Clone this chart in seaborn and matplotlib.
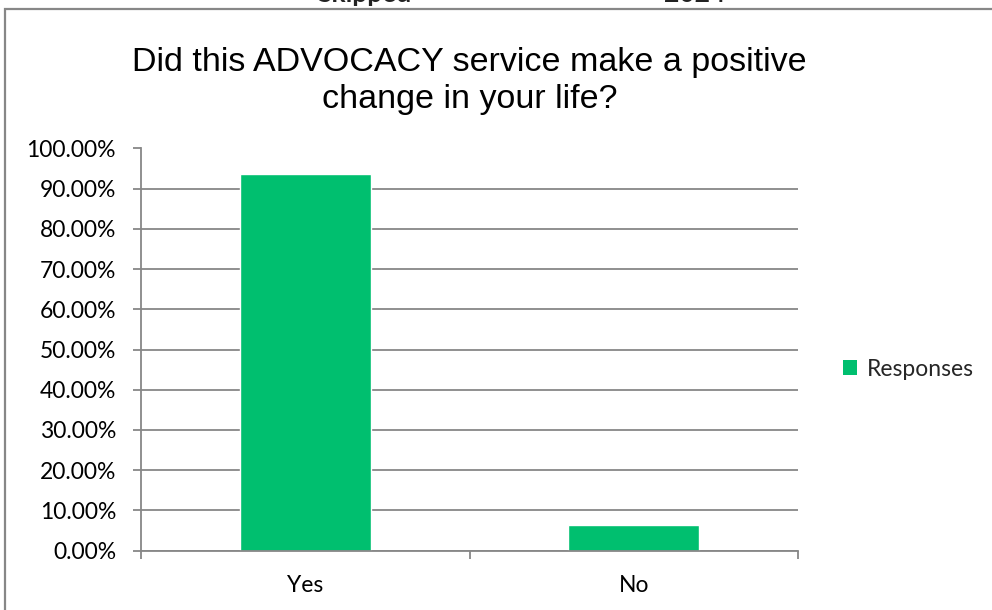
import matplotlib
matplotlib.use("Agg")
import matplotlib.pyplot as plt
import matplotlib.patches as mpatches
import seaborn as sns
import pandas as pd

# Survey answers and share of responses (%)
answers = ["Yes", "No"]
responses = [93.75, 6.25]
y_ticks = [0, 10, 20, 30, 40, 50, 60, 70, 80, 90, 100]
title_text = "Did this ADVOCACY service make a positive\nchange in your life?"
series_name = "Responses"
header_left = "Skipped"
header_right = "2024"

df = pd.DataFrame({"Answer": answers, series_name: responses})

sns.set_theme(style="white")
plt.rcParams["font.family"] = ["Lato", "DejaVu Sans"]

GREEN = "#00BF6F"
GRAY = "#878787"
LABEL_SIZE = 16.5

fig = plt.figure(figsize=(9.92, 6.10), dpi=100)
W, H = 992, 610
ax = fig.add_axes([141 / W, (H - 550.5) / H, (798 - 141) / W, (550.5 - 148.5) / H])

sns.barplot(data=df, x="Answer", y=series_name, color=GREEN, width=0.4,
            saturation=1, ax=ax, zorder=3)

ax.set_ylim(0, 100)
ax.set_xlim(-0.5, 1.5)
ax.set_yticks(y_ticks)
ax.set_yticklabels([f"{v:.2f}%" for v in y_ticks])
ax.set_xticks([0, 1])
ax.set_xticklabels(answers)
ax.set_xlabel("")
ax.set_ylabel("")

# Category boundary ticks on the x axis
ax.set_xticks([-0.5, 0.5, 1.5], minor=True)
ax.tick_params(axis="x", which="major", length=0, pad=18, labelsize=LABEL_SIZE, labelcolor="#000000")
ax.tick_params(axis="x", which="minor", length=6, width=1.3, color=GRAY, direction="out", bottom=True)
ax.tick_params(axis="y", which="major", length=6, width=1.3, color=GRAY, direction="out",
               left=True, pad=12, labelsize=LABEL_SIZE, labelcolor="#000000")

ax.yaxis.grid(True, color=GRAY, linewidth=1.3, zorder=0)
ax.xaxis.grid(False)
for side in ["top", "right"]:
    ax.spines[side].set_visible(False)
for side in ["left", "bottom"]:
    ax.spines[side].set_color(GRAY)
    ax.spines[side].set_linewidth(1.3)
    ax.spines[side].set_zorder(4)

fig.text(469.5 / W, 1 - 81 / H, title_text, ha="center", va="center",
         fontsize=24.5, family=["Liberation Sans", "DejaVu Sans"], color="#000000",
         linespacing=1.27)

handle = mpatches.Patch(facecolor=GREEN, edgecolor="none", label=series_name)
fig.legend(handles=[handle], loc="center left", bbox_to_anchor=(834 / W, 1 - 369 / H),
           frameon=False, fontsize=LABEL_SIZE, handlelength=0.62, handleheight=0.62,
           handletextpad=0.4, borderaxespad=0)

# Outer chart frame
frame = mpatches.Rectangle((4.5 / W, -0.1), 1.2, 1.1 - 8.5 / H, transform=fig.transFigure,
                           fill=False, edgecolor=GRAY, linewidth=1.6, clip_on=False)
fig.patches.append(frame)

# Header row above the chart frame, partly cut off by the page edge
fig.text(365 / W, 1 - 1.5 / H, header_left, ha="center", va="baseline",
         fontsize=19, fontweight="bold", color="#222222")
fig.text(695 / W, 1 - 1.5 / H, header_right, ha="center", va="baseline",
         fontsize=19, fontweight="bold", color="#222222")

fig.savefig("out.png", dpi=100, facecolor="white")
